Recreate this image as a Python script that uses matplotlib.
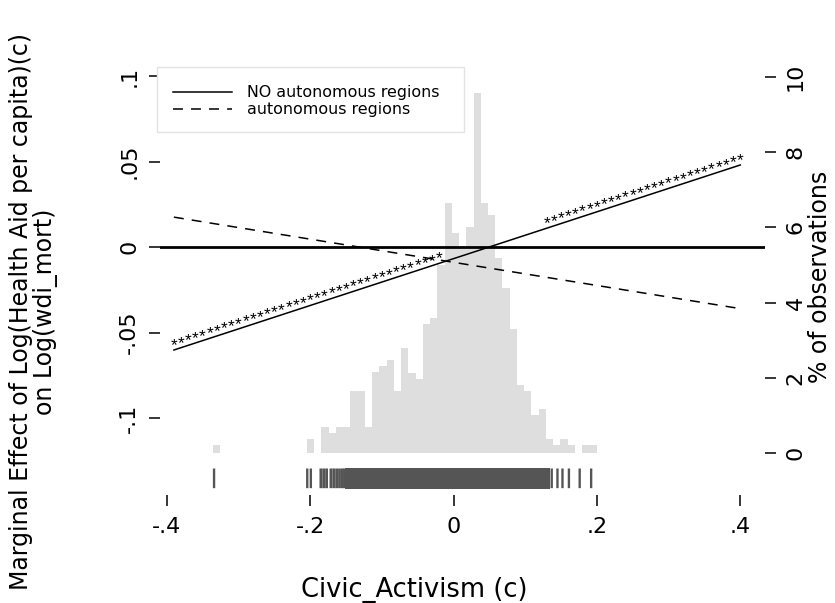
import numpy as np
import matplotlib
matplotlib.use("Agg")
import matplotlib.pyplot as plt
from matplotlib.lines import Line2D
from matplotlib.patches import Rectangle

# ---------------- data ----------------
hist_start = -0.3357
hist_binwidth = 0.0101
hist_pct = [0.21, 0, 0, 0, 0, 0, 0, 0, 0, 0, 0, 0, 0,
            0.37, 0, 0.69, 0.52, 0.69, 0.69, 1.65, 1.65, 0.69, 2.15, 2.31,
            2.46, 1.65, 2.78, 2.14, 1.97, 3.42, 3.58, 5.0,
            6.64, 5.84, 5.5, 6.02, 9.57, 6.64, 6.33, 5.19,
            4.38, 3.3, 1.81, 1.65, 1.01, 1.17, 0.37, 0.21, 0.37, 0.21, 0, 0.21, 0.21]

rug_obs_sparse = [-0.334, -0.204, -0.199, 0.137, 0.145, 0.152, 0.161, 0.176, 0.192]
rug_obs_left = [-0.185, -0.181, -0.177, -0.171, -0.167, -0.163, -0.159, -0.155, -0.152]
rug_obs_dense = [-0.148, -0.145, -0.142, -0.139, -0.136, -0.133, -0.130, -0.127, -0.124,
                 -0.121, -0.118, -0.115, -0.112, -0.109, -0.106, -0.103, -0.100, -0.097,
                 -0.094, -0.091, -0.088, -0.085, -0.082, -0.079, -0.076, -0.073, -0.070,
                 -0.067, -0.064, -0.061, -0.058, -0.055, -0.052, -0.049, -0.046, -0.043,
                 -0.040, -0.037, -0.034, -0.031, -0.028, -0.025, -0.022, -0.019, -0.016,
                 -0.013, -0.010, -0.007, -0.004, -0.001, 0.002, 0.005, 0.008, 0.011,
                 0.014, 0.017, 0.020, 0.023, 0.026, 0.029, 0.032, 0.035, 0.038, 0.041,
                 0.044, 0.047, 0.050, 0.053, 0.056, 0.059, 0.062, 0.065, 0.068, 0.071,
                 0.074, 0.077, 0.080, 0.083, 0.086, 0.089, 0.092, 0.095, 0.098, 0.101,
                 0.104, 0.107, 0.110, 0.113, 0.116, 0.119, 0.122, 0.125, 0.128, 0.131]

civic_range = [-0.39, 0.40]
me_no_auto = [-0.0602, 0.0480]     # NO autonomous regions (solid)
me_auto = [0.0175, -0.0360]        # autonomous regions (dashed)

star_x_seg1 = [-0.39, -0.38, -0.37, -0.36, -0.35, -0.34, -0.33, -0.32, -0.31, -0.30,
               -0.29, -0.28, -0.27, -0.26, -0.25, -0.24, -0.23, -0.22, -0.21, -0.20,
               -0.19, -0.18, -0.17, -0.16, -0.15, -0.14, -0.13, -0.12, -0.11, -0.10,
               -0.09, -0.08, -0.07, -0.06, -0.05, -0.04, -0.03, -0.02]
star_x_seg2 = [0.13, 0.14, 0.15, 0.16, 0.17, 0.18, 0.19, 0.20, 0.21, 0.22, 0.23, 0.24,
               0.25, 0.26, 0.27, 0.28, 0.29, 0.30, 0.31, 0.32, 0.33, 0.34, 0.35, 0.36,
               0.37, 0.38, 0.39, 0.40]

x_ticks = [-0.4, -0.2, 0, 0.2, 0.4]
x_ticklabels = ["-.4", "-.2", "0", ".2", ".4"]
yl_ticks = [-0.1, -0.05, 0, 0.05, 0.1]
yl_ticklabels = ["-.1", "-.05", "0", ".05", ".1"]
yr_ticks = [0, 2, 4, 6, 8, 10]
yr_ticklabels = ["0", "2", "4", "6", "8", "10"]

legend_labels = ["NO autonomous regions", "autonomous regions"]

# ---------------- figure ----------------
W, H = 835, 603
plt.rcParams["font.family"] = ["DejaVu Sans"]
fig = plt.figure(figsize=(W / 100, H / 100), dpi=100)
fig.patch.set_facecolor("white")

def fx(px):
    return px / W

def fy(py):
    return 1 - py / H

ax = fig.add_axes([fx(160), fy(495), (765 - 160) / W, (495 - 60) / H])
ax2 = ax.twinx()
ax.set_zorder(ax2.get_zorder() + 1)
ax.patch.set_visible(False)

# histogram (right axis)
edges = hist_start + hist_binwidth * np.arange(len(hist_pct) + 1)
ax2.bar(edges[:-1], hist_pct, width=hist_binwidth, align="edge",
        color="#dedede", linewidth=0)
ax2.set_ylim(-1.117, 10.45)

# left axis
ax.set_xlim(-0.4094, 0.4345)
ax.set_ylim(-0.1450, 0.1094)

# rug
rug_color = "#555555"
rs = ax.vlines(rug_obs_sparse, -0.1410, -0.1295, color=rug_color, linewidth=1.7)
rl = ax.vlines(rug_obs_left, -0.1410, -0.1295, color=rug_color, linewidth=2.0)
rd = ax.vlines(rug_obs_dense, -0.1410, -0.1295, color=rug_color, linewidth=2.4,
               antialiased=False)
for c in (rs, rl, rd):
    c.set_snap(False)

# zero line
ax.axhline(0, color="black", linewidth=2.0)

# marginal effect lines
ax.plot(civic_range, me_no_auto, color="black", linewidth=1.1)
ax.plot(civic_range, me_auto, color="black", linewidth=1.1,
        linestyle=(0, (6.5, 5.3)))

# significance stars on the solid line
slope = (me_no_auto[1] - me_no_auto[0]) / (civic_range[1] - civic_range[0])
for sx in star_x_seg1 + star_x_seg2:
    sy = me_no_auto[0] + slope * (sx - civic_range[0])
    ax.text(sx, sy, "*", ha="center", va="baseline", fontsize=12.5,
            family="Liberation Sans", color="black")

# ticks
for a in (ax, ax2):
    for s in a.spines.values():
        s.set_visible(False)
ax.set_xticks(x_ticks)
ax.set_xticklabels(x_ticklabels)
ax.set_yticks(yl_ticks)
ax.set_yticklabels(yl_ticklabels, rotation=90, va="center")
ax2.set_yticks(yr_ticks)
ax2.set_yticklabels(yr_ticklabels, rotation=90, va="center")
ax.tick_params(axis="x", direction="out", length=8, width=1.1,
               labelsize=16, pad=8)
ax.tick_params(axis="y", direction="out", length=8, width=1.1,
               labelsize=16, pad=7)
ax2.tick_params(axis="y", direction="out", length=8, width=1.1,
                labelsize=16, pad=7)

# axis titles
fig.text(fx(414), fy(590), "Civic_Activism (c)", ha="center", va="center", fontsize=18.5)
fig.text(fx(34), fy(312),
         "Marginal Effect of Log(Health Aid per capita)(c)\non Log(wdi_mort)",
         ha="center", va="center", rotation=90, fontsize=17, linespacing=1.0,
         multialignment="center")
fig.text(fx(820), fy(277), "% of observations", ha="center", va="center",
         rotation=90, fontsize=17)

# legend (drawn manually to match tight Stata layout)
fig.patches.append(Rectangle((fx(157), fy(132)), (464 - 157) / W, (132 - 67) / H,
                             transform=fig.transFigure, facecolor="white",
                             edgecolor="#e3e3e3", linewidth=1.0, zorder=5))
fig.lines.append(Line2D([fx(173), fx(232)], [fy(92.3), fy(92.3)],
                        transform=fig.transFigure, color="black", linewidth=1.1, zorder=6))
fig.lines.append(Line2D([fx(173), fx(232)], [fy(109.3), fy(109.3)],
                        transform=fig.transFigure, color="black", linewidth=1.1,
                        linestyle=(0, (6.5, 5.3)), zorder=6))
fig.text(fx(247), fy(92.3), legend_labels[0], ha="left", va="center", fontsize=11.4, zorder=6)
fig.text(fx(247), fy(109.3), legend_labels[1], ha="left", va="center", fontsize=11.4, zorder=6)

fig.savefig("out.png", dpi=100)
